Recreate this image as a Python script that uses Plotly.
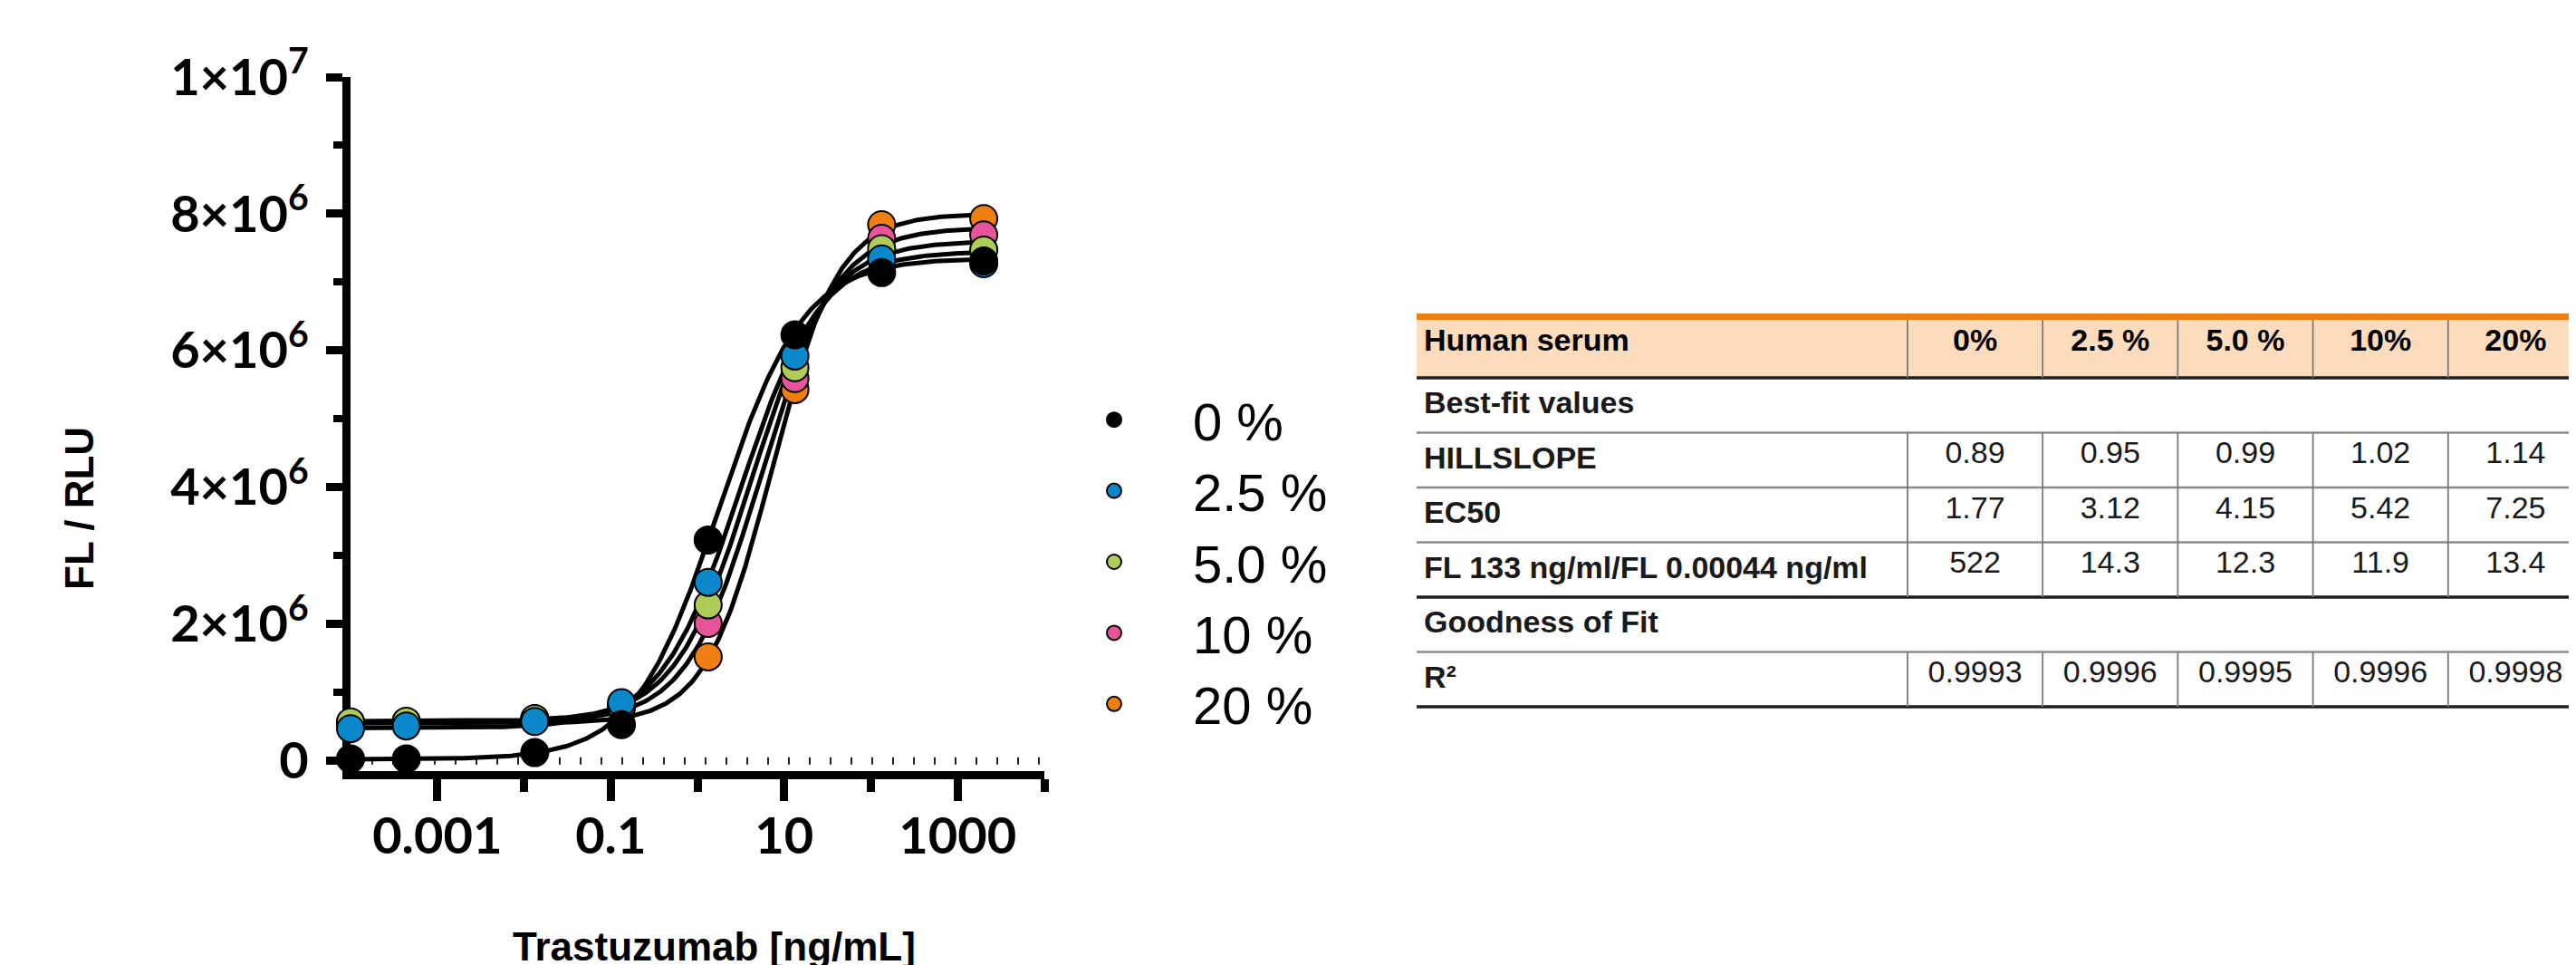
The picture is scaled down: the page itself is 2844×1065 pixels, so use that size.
import numpy as np
import plotly.graph_objects as go

# ---------------- data ----------------
concentrations = [0.0001, 0.00044, 0.0133, 0.133, 1.33, 13.3, 133, 2000]   # ng/mL

series_names = ["0 %", "2.5 %", "5.0 %", "10 %", "20 %"]
series_colors = ["#000000", "#0A88C9", "#AFCB58", "#E8549A", "#EF7F10"]

fl_serum_0 = [0.03e6, 0.03e6, 0.12e6, 0.53e6, 3.23e6, 6.23e6, 7.14e6, 7.31e6]
fl_serum_2_5 = [0.47e6, 0.51e6, 0.575e6, 0.85e6, 2.61e6, 5.92e6, 7.34e6, 7.27e6]
fl_serum_5 = [0.57e6, 0.58e6, 0.62e6, 0.80e6, 2.28e6, 5.75e6, 7.49e6, 7.47e6]
fl_serum_10 = [0.56e6, 0.57e6, 0.61e6, 0.80e6, 2.01e6, 5.59e6, 7.64e6, 7.69e6]
fl_serum_20 = [0.55e6, 0.56e6, 0.60e6, 0.78e6, 1.52e6, 5.43e6, 7.84e6, 7.93e6]
series_values = [fl_serum_0, fl_serum_2_5, fl_serum_5, fl_serum_10, fl_serum_20]

# four-parameter logistic fit: plateaus, slope / EC50 from the table
fit_bottom = [0.02e6, 0.48e6, 0.58e6, 0.57e6, 0.55e6]
fit_top = [7.35e6, 7.45e6, 7.60e6, 7.80e6, 8.00e6]

table_header = ["Human serum", "0%", "2.5 %", "5.0 %", "10%", "20%"]
table_row_labels = ["Best-fit values", "HILLSLOPE", "EC50",
                    "FL 133 ng/ml/FL 0.00044 ng/ml", "Goodness of Fit", "R²"]
hillslope = ["0.89", "0.95", "0.99", "1.02", "1.14"]
ec50 = ["1.77", "3.12", "4.15", "5.42", "7.25"]
fl_ratio = ["522", "14.3", "12.3", "11.9", "13.4"]
r_squared = ["0.9993", "0.9996", "0.9995", "0.9996", "0.9998"]

y_tick_vals = [0, 2e6, 4e6, 6e6, 8e6, 1e7]
y_tick_text = ["0", "2×10<sup>6</sup>", "4×10<sup>6</sup>", "6×10<sup>6</sup>",
               "8×10<sup>6</sup>", "1×10<sup>7</sup>"]
y_minor_vals = [1e6, 3e6, 5e6, 7e6, 9e6]
x_tick_vals = [1e-3, 1e-1, 1e1, 1e3]
x_tick_text = ["0.001", "0.1", "10", "1000"]
x_minor_vals = [1e-2, 1e0, 1e2, 1e4]

# ---------------- layout constants (pixels) ----------------
W, H = 2844, 1065
PLOT_L, PLOT_R, PLOT_T, PLOT_B = 379, 1145, 77, 843


def px(x):
    return x / W


def py(y):
    return 1 - y / H


fig = go.Figure()

# fitted curves (drawn first, under the markers)
xs = np.logspace(np.log10(concentrations[0]), np.log10(concentrations[-1]), 400)
for i in range(len(series_names)):
    e, h = float(ec50[i]), float(hillslope[i])
    ys = fit_bottom[i] + (fit_top[i] - fit_bottom[i]) / (1 + (e / xs) ** h)
    fig.add_trace(go.Scatter(x=xs, y=ys, mode="lines", showlegend=False,
                             hoverinfo="skip",
                             line=dict(color="black", width=5)))

# data points: highest serum first so that 0 % ends on top
for i in reversed(range(len(series_names))):
    fig.add_trace(go.Scatter(
        x=concentrations, y=series_values[i], mode="markers",
        name=series_names[i], legendrank=i + 1, cliponaxis=False,
        marker=dict(size=30, color=series_colors[i],
                    line=dict(color="black", width=2))))

tick_font = dict(family="Lato", size=56, color="black", weight="bold")

fig.update_xaxes(
    type="log", range=[-4, 4], domain=[px(PLOT_L), px(PLOT_R)], anchor="y",
    showline=True, linewidth=9, linecolor="black", layer="below traces",
    ticks="outside", tickvals=x_tick_vals, ticktext=x_tick_text,
    ticklen=24, tickwidth=9, tickcolor="black", tickfont=tick_font,
    ticklabelstandoff=-9,
    minor=dict(tickvals=x_minor_vals, ticks="outside", ticklen=14,
               tickwidth=9, tickcolor="black", showgrid=False),
    showgrid=False, zeroline=False)

fig.update_yaxes(
    range=[-0.15e6, 1e7], domain=[py(PLOT_B), py(PLOT_T)], anchor="x",
    showline=True, linewidth=9, linecolor="black", layer="below traces",
    ticks="outside", tickvals=y_tick_vals, ticktext=y_tick_text,
    ticklen=18, tickwidth=9, tickcolor="black", tickfont=tick_font,
    ticklabelstandoff=8,
    minor=dict(tickvals=y_minor_vals, ticks="outside", ticklen=10,
               tickwidth=8, tickcolor="black", showgrid=False),
    showgrid=False, zeroline=False)

shapes = []
# dotted baseline at y = 0
shapes.append(dict(type="line", xref="x domain", yref="y", x0=0, x1=1, y0=0, y1=0,
                   layer="below", line=dict(color="#222222", width=8, dash="2px,21px")))

# ---------------- table ----------------
TABLE_L = 1556
BAR_T, HEAD_T, HEAD_H, ROW_H = 338, 345, 64, 60.5
col_w = [543] + [149.5] * 5
scale = (W - TABLE_L) / sum(col_w)
col_edges = [TABLE_L]
for cw in col_w:
    col_edges.append(col_edges[-1] + cw * scale)

n_rows = len(table_row_labels)
table_bottom = HEAD_T + HEAD_H + ROW_H * n_rows

columns = [["<b>%s</b>" % t for t in table_row_labels]]
for j in range(5):
    columns.append(["", hillslope[j], ec50[j], fl_ratio[j], "", r_squared[j]])

align = ["left"] + ["center"] * 5
fig.add_trace(go.Table(
    domain=dict(x=[px(TABLE_L), 1], y=[py(table_bottom + 30), py(HEAD_T)]),
    columnwidth=col_w,
    header=dict(values=table_header, align=align, height=HEAD_H,
                fill=dict(color="#FCDCBD"),
                line=dict(color="rgba(0,0,0,0)", width=0),
                font=dict(family="Liberation Sans", size=34, color="black", weight="bold")),
    cells=dict(values=columns, align=align, height=ROW_H,
               fill=dict(color="rgba(0,0,0,0)"),
               line=dict(color="rgba(0,0,0,0)", width=0),
               font=dict(family="Liberation Sans", size=34, color="#1a1a1a"))))

# orange top rule
shapes.append(dict(type="rect", xref="paper", yref="paper", x0=px(TABLE_L), x1=1,
                   y0=py(HEAD_T), y1=py(BAR_T), fillcolor="#EE7D12",
                   line=dict(width=0), layer="above"))
# horizontal rules
row_bounds = [HEAD_T + HEAD_H + ROW_H * k for k in range(n_rows + 1)]
dark_rules = {0, 4, 6}
for k, yb in enumerate(row_bounds):
    dark = k in dark_rules
    shapes.append(dict(type="line", xref="paper", yref="paper", x0=px(TABLE_L), x1=1,
                       y0=py(yb), y1=py(yb), layer="above",
                       line=dict(color="#1e1e1e" if dark else "#8c8c8c",
                                 width=3.5 if dark else 2.5)))
# vertical rules: header and rows carrying values
v_segments = [(HEAD_T, HEAD_T + HEAD_H)]
for r, lab in enumerate(table_row_labels):
    if columns[1][r] != "":
        v_segments.append((row_bounds[r], row_bounds[r + 1]))
for xe in col_edges[1:-1]:
    for (a, b) in v_segments:
        shapes.append(dict(type="line", xref="paper", yref="paper", x0=px(xe), x1=px(xe),
                           y0=py(a), y1=py(b), layer="above",
                           line=dict(color="#7a7a7a", width=1.8)))

fig.update_layout(
    width=W, height=H, margin=dict(l=0, r=0, t=0, b=0, autoexpand=False),
    paper_bgcolor="white", plot_bgcolor="white",
    shapes=shapes,
    showlegend=True,
    legend=dict(x=px(1135), xanchor="left", y=py(612), yanchor="middle",
                itemwidth=164, tracegroupgap=0, bgcolor="rgba(0,0,0,0)",
                font=dict(family="Liberation Sans", size=58, color="black")),
    annotations=[
        dict(text="FL / RLU", xref="paper", yref="paper", x=px(79), y=py(553),
             textangle=-90, showarrow=False, xanchor="center", yanchor="middle",
             font=dict(family="Liberation Sans", size=44, color="black", weight="bold")),
        dict(text="Trastuzumab [ng/mL]", xref="paper", yref="paper", x=px(780), y=py(1036),
             showarrow=False, xanchor="center", yanchor="middle",
             font=dict(family="Liberation Sans", size=44, color="black", weight="bold")),
    ],
)

fig.write_html("out.html")
